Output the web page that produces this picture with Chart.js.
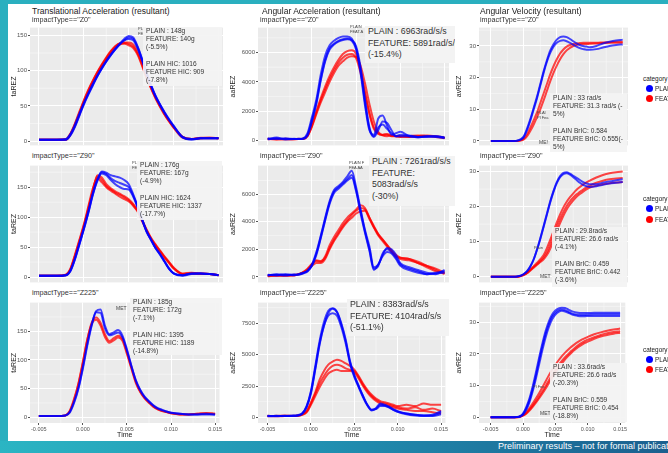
<!DOCTYPE html>
<html>
<head>
<meta charset="utf-8">
<script src="https://cdn.jsdelivr.net/npm/chart.js@4.4.1/dist/chart.umd.min.js"></script>
<style>
  body { margin: 0; width: 668px; height: 453px; overflow: hidden; background: #fff; position: relative; font-family: "Liberation Sans", Arial, sans-serif; }
  .abs { position: absolute; white-space: nowrap; z-index: 2; }
  canvas { position: absolute; z-index: 1; }
  #topbar { left: 0; top: 0; width: 668px; height: 4px; background: #2aafbf; }
  #leftbar { left: 0; top: 0; width: 8px; height: 453px; background: #2aafbf; }
  #footer { left: 0; top: 441px; width: 668px; height: 12px; background: linear-gradient(90deg, #2bb5c3 0%, #2193b3 45%, #1b5f8e 100%); overflow: hidden; z-index: 3; }
  #footer span { position: absolute; left: 498px; top: 0px; color: #fff; font-size: 9px; }
  .title { font-size: 8.5px; color: #222; }
  .strip { font-size: 7.2px; color: #333; }
  .note { font-size: 6.6px; line-height: 8.2px; color: #333; background: rgba(243,243,243,0.92); padding-left: 3px; box-sizing: border-box; overflow: hidden; }
  .big { font-size: 8.8px; line-height: 11.5px; color: #333; background: #f3f3f3; padding-left: 3px; box-sizing: border-box; overflow: hidden; }
  .tiny { font-size: 4px; line-height: 5px; color: #444; }
  .legend { font-size: 6.4px; color: #222; }
  .dot { position: absolute; width: 7px; height: 7px; border-radius: 50%; z-index: 2; }
</style>
</head>
<body>
<div id="topbar" class="abs"></div>
<div id="leftbar" class="abs"></div>

<script>
// time axis shared by every run (s)
const time = [-0.005,-0.004,-0.003,-0.002,-0.0015,-0.001,-0.0005,0,0.0005,0.001,0.0015,0.002,0.0025,0.003,0.0035,0.004,0.0045,0.005,0.0055,0.006,0.0065,0.007,0.0075,0.008,0.0085,0.009,0.0095,0.010,0.011,0.012,0.013,0.014,0.015]

const timeTicks = [-0.005, 0, 0.005, 0.01, 0.015]
const taTicks = [0, 50, 100, 150]
const aaTicks = [0, 2000, 4000, 6000]
const aaTicksZ225 = [0, 2500, 5000, 7500]
const avTicks = [0, 10, 20, 30]

// translational acceleration (g)
const taZ0Plain = [
  [2,2,2,2,8,20,36,52,66,79,92,103,113,122,130,138,145,149,147,134,116,96,78,63,51,40,30,21,5,3,4,4,4],
  [2,2,2,3,10,23,39,54,68,81,93,104,114,123,131,138,143,145,143,131,114,95,78,63,51,40,30,21,6,3,4,4,4],
  [2,2,2,2,9,21,37,53,67,80,92,103,113,122,130,137,143,147,145,133,115,96,79,64,52,41,31,22,6,2,4,4,4]
]
const taZ0Feature = [
  [2,2,2,2,9,22,38,55,70,84,97,108,118,127,134,139,140,140,137,126,110,92,76,62,50,39,29,20,6,3,4,5,4],
  [2,2,2,3,11,25,42,58,73,86,98,109,119,128,135,138,138,136,132,122,106,89,74,60,48,37,28,19,5,3,4,4,4],
  [2,2,2,2,10,24,40,57,72,85,97,107,117,126,133,137,139,138,134,124,108,90,75,61,49,38,28,20,6,3,5,5,4]
]
const taZ90Plain = [
  [2,2,2,3,10,30,55,80,108,138,162,176,174,170,168,166,162,155,138,118,96,76,62,48,38,26,14,6,3,6,6,5,3],
  [2,2,2,3,11,31,56,82,110,140,163,175,172,165,160,157,154,150,136,117,96,76,62,48,38,26,14,6,3,6,6,5,3],
  [2,2,2,3,10,29,54,80,107,137,160,173,170,162,155,150,147,146,134,116,95,75,61,48,37,25,13,6,2,5,6,5,3]
]
const taZ90Feature = [
  [2,2,2,4,13,35,60,86,115,145,168,162,152,146,141,137,133,128,120,110,94,78,64,53,43,33,24,15,5,6,6,5,3],
  [2,2,2,4,14,37,62,88,118,148,165,158,150,144,139,134,130,126,119,109,93,77,63,52,42,32,23,14,5,6,5,5,3],
  [2,2,2,3,12,34,58,84,113,143,170,166,155,148,143,139,135,130,122,111,95,79,65,54,44,34,25,16,6,7,6,5,3]
]
const taZ225Plain = [
  [2,2,2,3,8,25,50,85,125,160,185,188,160,145,148,152,142,118,90,65,48,36,28,21,16,13,10,8,6,5,5,5,5],
  [2,2,2,3,9,27,52,88,128,162,183,182,155,143,145,148,139,116,89,64,47,35,27,20,15,12,10,8,6,5,5,6,5]
]
const taZ225Feature = [
  [2,2,2,3,10,30,58,95,135,165,174,165,145,133,138,142,136,113,87,62,45,34,26,19,14,11,9,7,5,5,6,7,6],
  [2,2,2,3,11,32,60,97,136,163,170,160,140,130,134,139,133,110,85,60,44,33,25,18,14,11,9,7,5,5,6,7,6]
]

// angular acceleration (rad/s/s)
const aaZ0Plain = [
  [100,150,80,100,120,150,500,1600,2800,4500,5800,6500,6800,7000,7100,7100,6950,6300,4600,2400,700,400,1500,1700,1000,400,500,600,300,250,300,300,200],
  [150,100,150,100,110,130,400,1400,2600,4200,5500,6300,6600,6800,6900,6950,6850,6400,5000,2800,900,300,900,1100,800,500,300,400,350,250,250,300,200],
  [80,200,100,120,100,120,350,1300,2500,4100,5400,6200,6550,6750,6850,6900,6800,6200,4800,2600,800,250,700,1300,1200,700,300,300,300,200,300,250,150]
]
const aaZ0Feature = [
  [100,60,120,100,100,120,350,1100,2000,2900,3700,4400,5000,5500,5900,6100,6150,5900,4800,3300,1900,900,500,400,450,350,300,300,250,300,350,300,200],
  [120,100,80,100,120,100,300,950,1800,2600,3300,4000,4600,5100,5400,5650,5750,5700,5100,3900,2500,1300,600,350,300,350,300,250,300,350,300,250,150],
  [90,120,100,80,100,110,320,1000,1900,2750,3500,4200,4800,5300,5650,5850,5900,5600,4600,3200,1800,800,450,380,400,300,300,280,250,300,300,280,180]
]
const aaZ90Plain = [
  [100,200,150,150,200,300,450,900,1800,3000,4300,5500,6300,6600,6900,7300,7700,6500,4900,3400,2200,700,900,1600,2100,2000,1600,1000,700,500,300,200,500],
  [150,100,200,120,180,280,420,850,1700,2900,4200,5400,6200,6500,6800,7100,7400,6300,4800,3300,2000,600,800,1700,2000,1800,1400,900,600,400,200,300,400],
  [120,150,100,180,150,250,400,800,1600,2800,4100,5300,6100,6400,6700,7000,7200,6200,4600,3200,1900,500,900,1500,1800,1700,1300,800,500,300,200,250,300]
]
const aaZ90Feature = [
  [50,100,100,150,200,350,600,950,1150,1100,1500,2300,2900,3400,3900,4300,4600,4900,5200,5000,4300,3700,3100,2700,2300,1900,1500,1400,1300,1100,800,500,200],
  [80,120,80,120,180,300,500,800,1000,1000,1300,2000,2600,3100,3600,4000,4300,4600,4750,4800,4200,3600,3100,2700,2300,1900,1600,1400,1300,1000,700,400,300],
  [100,80,120,100,200,320,550,900,1200,1150,1400,2100,2700,3200,3700,4100,4500,4800,5000,4900,4300,3600,3000,2600,2200,1800,1500,1300,1200,1000,800,600,300]
]
const aaZ225Plain = [
  [100,100,100,150,150,300,900,2100,4100,6100,7600,8500,8700,8400,7400,6100,4400,3300,2500,1700,1000,600,700,1000,950,800,600,450,300,200,150,150,400],
  [80,120,100,120,180,320,850,2000,3900,5900,7300,8100,8300,8100,7200,5900,4300,3200,2400,1600,950,550,750,1100,1000,850,650,500,300,200,150,200,500],
  [120,80,120,100,150,280,800,1900,3800,5800,7300,8300,8650,8400,7500,6200,4500,3400,2500,1700,1000,600,650,900,900,800,600,450,250,150,100,100,250]
]
const aaZ225Feature = [
  [100,100,150,100,150,250,500,1200,2000,3000,3700,4200,4450,4600,4500,4300,4100,3800,3300,2700,2200,1800,1500,1300,1200,1100,1000,900,1000,900,1100,1000,1000],
  [120,80,100,120,130,230,450,1100,1900,2700,3300,3800,4100,4200,4100,3900,3800,3700,3200,2600,2100,1700,1400,1200,1100,1000,900,800,700,800,600,700,500],
  [80,120,100,100,120,200,400,1000,1700,2400,3000,3500,3700,3800,3700,3700,3700,3600,3100,2500,2000,1600,1300,1100,1000,900,800,700,600,500,500,400,300]
]

// angular velocity (rad/s)
const avZ0Plain = [
  [0,0,0,0,0,0.1,0.5,1.5,4,7,10.5,14,18,22,25.5,28.5,30.5,32,32.8,33,32.8,32.2,31.5,30.8,30.3,30,29.8,29.6,30,30.8,31.3,31.7,32],
  [0,0,0,0,0,0.1,0.4,1.2,3.5,6.5,10,13.5,17.5,21.5,25,27.8,29.8,31,31.6,31.8,31.5,31,30.4,29.8,29.3,29,28.8,28.8,29,29.5,30,30.3,30.5]
]
const avZ0Feature = [
  [0,0,0,0,0,0,0.2,0.8,2.2,4.3,6.6,9,12,15,18,21,23.6,25.8,27.6,28.9,29.8,30.3,30.6,30.8,30.9,31,31,31,31,31.1,31.2,31.3,31.3],
  [0,0,0,0,0,0,0.1,0.5,1.5,3.2,5.2,7.5,10,12.8,15.8,18.8,21.5,23.8,25.8,27.4,28.6,29.4,30,30.3,30.5,30.6,30.6,30.7,30.8,30.9,31,31,31]
]
const avZ90Plain = [
  [0,0,0,0,0,0.1,0.3,0.8,1.6,3,5,7.8,11,14.5,18,21.5,24.5,27,28.7,29.6,29.8,29.4,28.8,28.2,27.6,27,26.6,26.4,26.4,26.8,27.2,27.5,27.8],
  [0,0,0,0,0,0.1,0.3,0.8,1.6,3,5,7.7,10.8,14.2,17.7,21.2,24.2,26.7,28.4,29.3,29.5,29.1,28.4,27.6,26.8,26.2,25.8,25.6,25.8,26.2,26.6,26.8,27]
]
const avZ90Feature = [
  [0,0,0,0,0,0,0.2,0.6,1.2,2,3,4,5,6.2,8.2,10.5,13,15.5,17.8,19.8,21.4,22.7,23.8,24.8,25.6,26.3,26.9,27.4,28.3,29,29.5,29.8,30],
  [0,0,0,0,0,0,0.2,0.6,1.2,2,2.8,3.6,4.5,5.5,7,9.2,11.8,14.3,16.5,18.5,20.2,21.5,22.6,23.5,24.2,24.9,25.5,26,26.8,27.4,27.8,28,28.2],
  [0,0,0,0,0,0,0.2,0.5,1,1.8,2.6,3.4,4.2,5,6.2,8,10.4,13,15.3,17.4,19.2,20.6,21.8,22.8,23.6,24.3,24.9,25.4,26,26.4,26.7,26.9,27]
]
const avZ225Plain = [
  [0,0,0,0,0,0.1,0.3,1.2,3.2,6,9.8,14.2,19,23.4,27.3,30.3,32.4,33.7,34.4,34.6,34.5,34,33.5,33.2,33,32.9,32.9,32.9,33,33,33,33,33],
  [0,0,0,0,0,0.1,0.3,1,2.8,5.4,9,13.3,18,22.5,26.4,29.5,31.7,33,33.8,34,33.8,33.3,32.8,32.5,32.4,32.3,32.3,32.4,32.5,32.5,32.5,32.5,32.5],
  [0,0,0,0,0,0.1,0.2,0.8,2.4,4.8,8.2,12.3,16.8,21.3,25.3,28.5,30.9,32.4,33.3,33.6,33.4,33,32.5,32.2,32,31.9,31.9,32,32,32,32,32,32]
]
const avZ225Feature = [
  [0,0,0,0,0,0,0.2,0.7,1.6,2.9,4.4,6,7.7,9.5,11.4,13.3,15,16.6,18,19.3,20.4,21.4,22.3,23.1,23.8,24.4,24.9,25.4,26.2,26.8,27.3,27.7,28],
  [0,0,0,0,0,0,0.2,0.6,1.3,2.4,3.7,5.1,6.6,8.2,9.9,11.7,13.4,15,16.5,17.8,19,20,21,21.9,22.7,23.4,24,24.5,25.3,26,26.5,26.9,27.2],
  [0,0,0,0,0,0,0.1,0.5,1.1,2.1,3.3,4.6,6,7.5,9.1,10.8,12.5,14.1,15.6,17,18.3,19.4,20.4,21.3,22.1,22.8,23.4,23.9,24.8,25.5,26,26.4,26.7]
]

const columns = [
  { left: 10, width: 213, axisW: 20, xMin: -0.006, xMax: 0.0155, yTitle: 'taREZ' },
  { left: 229, width: 220, axisW: 29, xMin: -0.0061, xMax: 0.0155, yTitle: 'aaREZ' },
  { left: 455, width: 173, axisW: 24, xMin: -0.0068, xMax: 0.0158, yTitle: 'avREZ' }
]
const rows = [
  { top: 23, height: 127, bottom: false },
  { top: 161, height: 126, bottom: false },
  { top: 298, height: 141, bottom: true }
]

const panels = [
  { col: 0, row: 0, plain: taZ0Plain, feature: taZ0Feature, ticks: taTicks, yMin: -6, yMax: 161 },
  { col: 0, row: 1, plain: taZ90Plain, feature: taZ90Feature, ticks: taTicks, yMin: -9, yMax: 186 },
  { col: 0, row: 2, plain: taZ225Plain, feature: taZ225Feature, ticks: taTicks, yMin: -10, yMax: 200 },
  { col: 1, row: 0, plain: aaZ0Plain, feature: aaZ0Feature, ticks: aaTicks, yMin: -330, yMax: 7700 },
  { col: 1, row: 1, plain: aaZ90Plain, feature: aaZ90Feature, ticks: aaTicks, yMin: -400, yMax: 8080 },
  { col: 1, row: 2, plain: aaZ225Plain, feature: aaZ225Feature, ticks: aaTicksZ225, yMin: -450, yMax: 9150 },
  { col: 2, row: 0, plain: avZ0Plain, feature: avZ0Feature, ticks: avTicks, yMin: -1.4, yMax: 35.8 },
  { col: 2, row: 1, plain: avZ90Plain, feature: avZ90Feature, ticks: avTicks, yMin: -1.6, yMax: 31.7 },
  { col: 2, row: 2, plain: avZ225Plain, feature: avZ225Feature, ticks: avTicks, yMin: -1.8, yMax: 36.2 }
]

// ggplot-like grey panel with thin minor grid lines
function minorValues(scale) {
  const t = scale.ticks.map(k => k.value)
  const step = t[1] - t[0]
  const out = []
  for (let v = t[0] - step / 2; v <= scale.max; v += step) {
    if (v >= scale.min) out.push(v)
  }
  return out
}

const panelBg = {
  id: 'panelBg',
  beforeDraw(chart) {
    const { ctx, chartArea: a, scales } = chart
    ctx.save()
    ctx.fillStyle = '#ebebeb'
    ctx.fillRect(a.left, a.top, a.width, a.height)
    ctx.strokeStyle = '#fafafa'
    ctx.lineWidth = 0.5
    ctx.beginPath()
    minorValues(scales.x).forEach(v => {
      const p = scales.x.getPixelForValue(v)
      ctx.moveTo(p, a.top); ctx.lineTo(p, a.bottom)
    })
    minorValues(scales.y).forEach(v => {
      const p = scales.y.getPixelForValue(v)
      ctx.moveTo(a.left, p); ctx.lineTo(a.right, p)
    })
    ctx.stroke()
    ctx.restore()
  }
}

function runs(list, color) {
  return list.map(vals => ({
    data: vals.map((v, i) => ({ x: time[i], y: v })),
    borderColor: color,
    borderWidth: 2,
    pointRadius: 0,
    fill: false,
    cubicInterpolationMode: 'monotone'
  }))
}

panels.forEach(p => {
  const c = columns[p.col]
  const r = rows[p.row]
  const canvas = document.createElement('canvas')
  canvas.width = c.width
  canvas.height = r.height
  canvas.style.left = c.left + 'px'
  canvas.style.top = r.top + 'px'
  document.body.appendChild(canvas)

  new Chart(canvas, {
    type: 'line',
    data: {
      datasets: runs(p.plain, 'rgba(0,0,255,0.72)').concat(runs(p.feature, 'rgba(255,0,0,0.72)'))
    },
    options: {
      responsive: false,
      animation: false,
      layout: { padding: 0 },
      plugins: { legend: { display: false }, tooltip: { enabled: false } },
      scales: {
        x: {
          type: 'linear',
          min: c.xMin,
          max: c.xMax,
          afterBuildTicks: s => { s.ticks = timeTicks.map(v => ({ value: v })) },
          afterFit: s => { s.height = r.bottom ? 16 : 0 },
          border: { display: false },
          grid: { color: '#ffffff', lineWidth: 1, drawTicks: r.bottom, tickLength: 2, tickColor: '#555' },
          ticks: {
            display: r.bottom, autoSkip: false, maxRotation: 0, padding: 1,
            color: '#555', font: { size: 5.5, family: 'Liberation Sans' },
            callback: v => v.toFixed(3)
          },
          title: { display: r.bottom, text: 'Time', color: '#222', padding: 0, font: { size: 7, family: 'Liberation Sans' } }
        },
        y: {
          min: p.yMin,
          max: p.yMax,
          afterBuildTicks: s => { s.ticks = p.ticks.map(v => ({ value: v })) },
          afterFit: s => { s.width = c.axisW },
          border: { display: false },
          grid: { color: '#ffffff', lineWidth: 1, tickLength: 2, tickColor: '#555' },
          ticks: { color: '#555', padding: 1, font: { size: 6, family: 'Liberation Sans' }, callback: v => String(v) },
          title: { display: true, text: c.yTitle, color: '#222', padding: 0, font: { size: 7, family: 'Liberation Sans' } }
        }
      }
    },
    plugins: [panelBg]
  })
})
</script>

<!-- column titles -->
<div class="abs title" style="left:32px;top:6px">Translational Acceleration (resultant)</div>
<div class="abs title" style="left:262px;top:6px">Angular Acceleration (resultant)</div>
<div class="abs title" style="left:480px;top:6px">Angular Velocity (resultant)</div>

<!-- facet strips -->
<div class="abs strip" style="left:32px;top:15px">impactType=="Z0"</div>
<div class="abs strip" style="left:32px;top:151px">impactType=="Z90"</div>
<div class="abs strip" style="left:32px;top:288px">impactType=="Z225"</div>
<div class="abs strip" style="left:260px;top:15px">impactType=="Z0"</div>
<div class="abs strip" style="left:260px;top:151px">impactType=="Z90"</div>
<div class="abs strip" style="left:260px;top:288px">impactType=="Z225"</div>
<div class="abs strip" style="left:480px;top:15px">impactType=="Z0"</div>
<div class="abs strip" style="left:480px;top:151px">impactType=="Z90"</div>
<div class="abs strip" style="left:480px;top:288px">impactType=="Z225"</div>

<!-- translational acceleration notes -->
<div class="abs tiny" style="left:138px;top:26px">PL<br>FE</div>
<div class="abs note" style="left:143px;top:27px;width:79px;height:59px">PLAIN : 148g<br>FEATURE: 140g<br>(-5.5%)<br><br>PLAIN HIC: 1016<br>FEATURE HIC: 909<br>(-7.8%)</div>
<div class="abs tiny" style="left:132px;top:160px">PL<br>FE</div>
<div class="abs note" style="left:137px;top:161px;width:85px;height:59px">PLAIN : 176g<br>FEATURE: 167g<br>(-4.9%)<br><br>PLAIN HIC: 1624<br>FEATURE HIC: 1337<br>(-17.7%)</div>
<div class="abs tiny" style="left:116px;top:306px;font-size:5px">MET</div>
<div class="abs note" style="left:130px;top:298px;width:92px;height:57px">PLAIN : 185g<br>FEATURE: 172g<br>(-7.1%)<br><br>PLAIN HIC: 1395<br>FEATURE HIC: 1189<br>(-14.8%)</div>

<!-- angular acceleration notes -->
<div class="abs tiny" style="left:350px;top:24px">PLAIN<br>FEAT.A</div>
<div class="abs big" style="left:365px;top:26px;width:90px;height:37px">PLAIN : 6963rad/s/s<br>FEATURE: 5891rad/s/s<br>(-15.4%)</div>
<div class="abs tiny" style="left:349px;top:160px">PLAIN F<br>FEA AA</div>
<div class="abs big" style="left:369px;top:156px;width:86px;height:50px">PLAIN : 7261rad/s/s<br>FEATURE:<br>5083rad/s/s<br>(-30%)</div>
<div class="abs big" style="left:347px;top:299px;width:102px;height:37px">PLAIN : 8383rad/s/s<br>FEATURE: 4104rad/s/s<br>(-51.1%)</div>

<!-- angular velocity notes -->
<div class="abs tiny" style="left:537px;top:110px">PLAI<br>Pl Fea</div>
<div class="abs tiny" style="left:539px;top:140px;font-size:5px">ME!</div>
<div class="abs note" style="left:550px;top:94px;width:77px;height:58px">PLAIN : 33 rad/s<br>FEATURE: 31.3 rad/s (-<br>5%)<br><br>PLAIN BrIC: 0.584<br>FEATURE BrIC: 0.555(-<br>5%)</div>
<div class="abs tiny" style="left:534px;top:245px">Plain</div>
<div class="abs tiny" style="left:540px;top:274px;font-size:5px">MET</div>
<div class="abs note" style="left:552px;top:227px;width:75px;height:60px">PLAIN : 29.8rad/s<br>FEATURE: 26.6 rad/s<br>(-4.1%)<br><br>PLAIN BrIC: 0.459<br>FEATURE BrIC: 0.442<br>(-3.6%)</div>
<div class="abs tiny" style="left:533px;top:384px">Pl Fea</div>
<div class="abs tiny" style="left:540px;top:411px;font-size:5px">MET</div>
<div class="abs note" style="left:550px;top:363px;width:77px;height:59px">PLAIN : 33.6rad/s<br>FEATURE: 26.6 rad/s<br>(-20.3%)<br><br>PLAIN BrIC: 0.559<br>FEATURE BrIC: 0.454<br>(-18.8%)</div>

<!-- legends -->
<div class="abs legend" style="left:643px;top:75px">category</div>
<div class="dot" style="left:646px;top:85px;background:#0000ff"></div>
<div class="abs legend" style="left:655px;top:85px">PLAIN</div>
<div class="dot" style="left:646px;top:95px;background:#ff0000"></div>
<div class="abs legend" style="left:655px;top:95px">FEATURE</div>

<div class="abs legend" style="left:643px;top:195px">category</div>
<div class="dot" style="left:646px;top:205px;background:#0000ff"></div>
<div class="abs legend" style="left:655px;top:205px">PLAIN</div>
<div class="dot" style="left:646px;top:216px;background:#ff0000"></div>
<div class="abs legend" style="left:655px;top:216px">FEATURE</div>

<div class="abs legend" style="left:643px;top:346px">category</div>
<div class="dot" style="left:646px;top:356px;background:#0000ff"></div>
<div class="abs legend" style="left:655px;top:356px">PLAIN</div>
<div class="dot" style="left:646px;top:366px;background:#ff0000"></div>
<div class="abs legend" style="left:655px;top:366px">FEATURE</div>

<div id="footer" class="abs"><span>Preliminary results – not for formal publication</span></div>
</body>
</html>
